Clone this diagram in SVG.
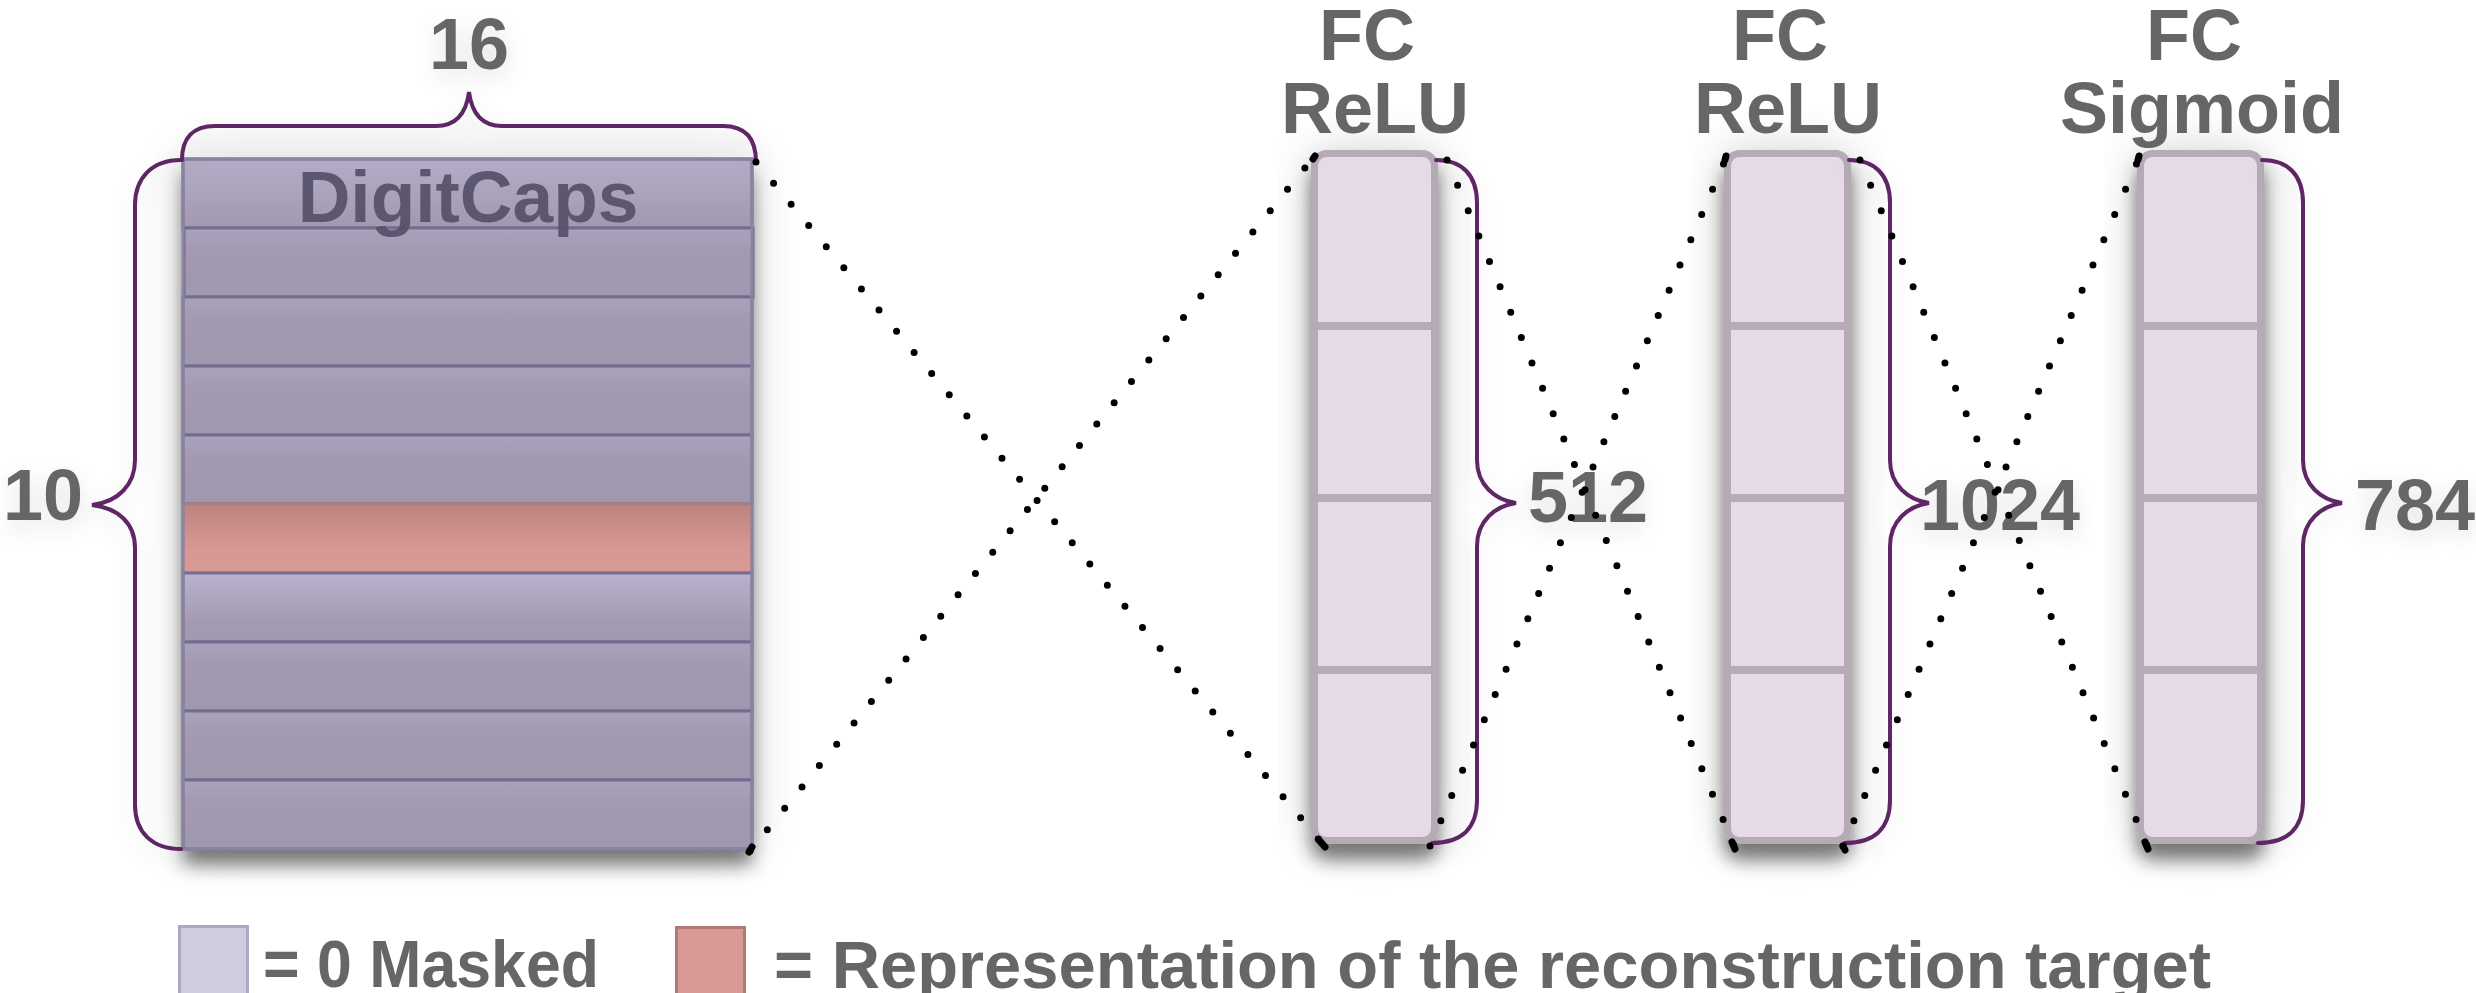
<svg xmlns="http://www.w3.org/2000/svg" width="2476" height="993" viewBox="0 0 2476 993">
<style>
.lbl{font-family:"Liberation Sans",Arial,sans-serif;font-weight:bold;fill:#666666;text-anchor:middle}
.leg{font-family:"Liberation Sans",Arial,sans-serif;font-weight:bold;fill:#666666}
.brace{fill:none;stroke:#5f2565;stroke-width:4;stroke-linecap:round}
.row{stroke:#746d90;stroke-width:3}
.col{fill:#e5dbe7;stroke:#b6aab6;stroke-width:7}
.div{stroke:#b6aab6;stroke-width:8}
.dots{fill:none;stroke:#000;stroke-width:7;stroke-linecap:round;stroke-dasharray:0 27.5}
.cap{fill:none;stroke:#000;stroke-width:7;stroke-linecap:round}
</style>
<defs>
<filter id="sh" x="-30%" y="-15%" width="160%" height="135%">
<feGaussianBlur in="SourceAlpha" stdDeviation="9" result="b1"/>
<feOffset in="b1" dy="16" result="o1"/>
<feComponentTransfer in="o1" result="s1"><feFuncA type="linear" slope="0.5"/></feComponentTransfer>
<feGaussianBlur in="SourceAlpha" stdDeviation="24" result="b2"/>
<feComponentTransfer in="b2" result="s2"><feFuncA type="linear" slope="0.18"/></feComponentTransfer>
<feMerge><feMergeNode in="s2"/><feMergeNode in="s1"/><feMergeNode in="SourceGraphic"/></feMerge>
</filter>
<filter id="glow" x="-30%" y="-30%" width="160%" height="160%">
<feGaussianBlur in="SourceAlpha" stdDeviation="12" result="g1"/>
<feOffset in="g1" dy="8" result="g2"/>
<feComponentTransfer in="g2" result="g3"><feFuncA type="linear" slope="0.12"/></feComponentTransfer>
<feMerge><feMergeNode in="g3"/><feMergeNode in="SourceGraphic"/></feMerge>
</filter>
<linearGradient id="gRow" x1="0" y1="0" x2="0" y2="1">
<stop offset="0" stop-color="#aaa1bb"/><stop offset="0.4" stop-color="#a299b0"/><stop offset="1" stop-color="#a098ae"/>
</linearGradient>
<linearGradient id="gTop" x1="0" y1="0" x2="0" y2="1">
<stop offset="0" stop-color="#b4abc6"/><stop offset="1" stop-color="#a299b0"/>
</linearGradient>
<linearGradient id="gLight" x1="0" y1="0" x2="0" y2="1">
<stop offset="0" stop-color="#bab2cd"/><stop offset="0.7" stop-color="#a49bb3"/><stop offset="1" stop-color="#a098ae"/>
</linearGradient>
<linearGradient id="gPink" x1="0" y1="0" x2="0" y2="1">
<stop offset="0" stop-color="#bd837f"/><stop offset="0.65" stop-color="#d79893"/><stop offset="1" stop-color="#d99a95"/>
</linearGradient>
</defs>
<rect width="2476" height="993" fill="#ffffff"/>

<g id="digitcaps">
<rect x="183" y="159" width="569" height="690" fill="#a39ab2" filter="url(#sh)"/>
<rect class="row" x="183" y="159" width="569" height="69" fill="url(#gTop)"/>
<rect class="row" x="184" y="228" width="569" height="69" fill="url(#gRow)"/>
<rect class="row" x="183" y="297" width="569" height="69" fill="url(#gRow)"/>
<rect class="row" x="183" y="366" width="569" height="69" fill="url(#gRow)"/>
<rect class="row" x="183" y="435" width="569" height="69" fill="url(#gRow)"/>
<rect x="183" y="504" width="569" height="69" fill="url(#gPink)" stroke="#b07c78" stroke-width="3"/>
<rect class="row" x="183" y="573" width="569" height="69" fill="url(#gLight)"/>
<rect class="row" x="183" y="642" width="569" height="69" fill="url(#gRow)"/>
<rect class="row" x="183" y="711" width="569" height="69" fill="url(#gRow)"/>
<rect class="row" x="183" y="780" width="569" height="69" fill="url(#gRow)"/>
<rect x="183" y="159" width="569" height="690" fill="none" stroke="#8a84a2" stroke-width="3"/>
<text x="468" y="222" font-family="Liberation Sans, Arial, sans-serif" font-weight="bold" font-size="73" fill="#57526b" text-anchor="middle" fill-opacity="0.95">DigitCaps</text>
</g>

<g id="brace-16" filter="url(#glow)">
<path class="brace" d="M182,160 C182,138 193,126 215,126 L436,126 C455,126 466,115 469,92 C472,115 483,126 502,126 L723,126 C745,126 756,138 756,162"/>
<text class="lbl" x="469" y="69" font-size="72">16</text>
</g>

<g id="brace-10" filter="url(#glow)">
<path class="brace" d="M181,160 C152,160 135,178 135,205 L135,460 C135,485 118,502 92,505 C118,508 135,523 135,548 L135,805 C135,832 152,849 181,849"/>
<text class="lbl" x="43" y="520" font-size="72">10</text>
</g>

<g id="fc1">
<rect class="col" x="1314.5" y="153.5" width="120" height="687" rx="12" filter="url(#sh)"/>
<line class="div" x1="1318" y1="326" x2="1431" y2="326"/>
<line class="div" x1="1318" y1="498" x2="1431" y2="498"/>
<line class="div" x1="1318" y1="670" x2="1431" y2="670"/>
<text class="lbl" x="1367" y="60" font-size="72">FC</text>
<text class="lbl" x="1375" y="133" font-size="72">ReLU</text>
<g filter="url(#glow)">
<path class="brace" d="M1436,160 C1462,160 1477,175 1477,203 L1477,460 C1477,485 1495,500 1516,503 C1495,506 1477,521 1477,546 L1477,800 C1477,828 1462,843 1432,843"/>
<text class="lbl" x="1588" y="522" font-size="72">512</text>
</g>
</g>

<g id="fc2">
<rect class="col" x="1727.5" y="153.5" width="120" height="687" rx="12" filter="url(#sh)"/>
<line class="div" x1="1731" y1="326" x2="1844" y2="326"/>
<line class="div" x1="1731" y1="498" x2="1844" y2="498"/>
<line class="div" x1="1731" y1="670" x2="1844" y2="670"/>
<text class="lbl" x="1780" y="60" font-size="72">FC</text>
<text class="lbl" x="1788" y="133" font-size="72">ReLU</text>
<g filter="url(#glow)">
<path class="brace" d="M1849,160 C1875,160 1890,175 1890,203 L1890,460 C1890,485 1908,500 1929,503 C1908,506 1890,521 1890,546 L1890,800 C1890,828 1875,843 1845,843"/>
<text class="lbl" x="2000" y="530" font-size="72">1024</text>
</g>
</g>

<g id="fc3">
<rect class="col" x="2140.5" y="153.5" width="120" height="687" rx="12" filter="url(#sh)"/>
<line class="div" x1="2144" y1="326" x2="2257" y2="326"/>
<line class="div" x1="2144" y1="498" x2="2257" y2="498"/>
<line class="div" x1="2144" y1="670" x2="2257" y2="670"/>
<text class="lbl" x="2194" y="60" font-size="72">FC</text>
<text class="lbl" x="2202" y="133" font-size="72">Sigmoid</text>
<g filter="url(#glow)">
<path class="brace" d="M2262,160 C2288,160 2303,175 2303,203 L2303,460 C2303,485 2321,500 2342,503 C2321,506 2303,521 2303,546 L2303,800 C2303,828 2288,843 2258,843"/>
<text class="lbl" x="2415" y="530" font-size="72">784</text>
</g>
</g>

<g id="legend">
<rect x="179.5" y="926.5" width="68" height="70" fill="#cfcce0" stroke="#aca7c7" stroke-width="3"/>
<text class="leg" x="263" y="987" font-size="66" textLength="336" lengthAdjust="spacingAndGlyphs">= 0 Masked</text>
<rect x="676.5" y="927.5" width="68" height="70" fill="#d99a95" stroke="#b07a76" stroke-width="3"/>
<text class="leg" x="774" y="988" font-size="66" textLength="1437" lengthAdjust="spacingAndGlyphs">= Representation of the reconstruction target</text>
</g>

<g id="connectors">
<path class="dots" d="M756,162 L1324,846"/>
<path class="dots" d="M750,851 L1313,158"/>
<path class="dots" d="M1447,160 L1735,848"/>
<path class="dots" d="M1430,846 L1726,158"/>
<path class="dots" d="M1860,160 L2148,848"/>
<path class="dots" d="M1843,846 L2139,158"/>
<path class="cap" d="M1319,840 L1325,847"/>
<path class="cap" d="M752,847 L749,852"/>
<path class="cap" d="M1315,156 L1313,159"/>
<path class="cap" d="M1732,842 L1735,849"/>
<path class="cap" d="M1845,850 L1843,846"/>
<path class="cap" d="M2145,842 L2148,849"/>
<path class="cap" d="M1725,160 L1726,156"/>
<path class="cap" d="M2138,160 L2139,156"/>
</g>
</svg>
